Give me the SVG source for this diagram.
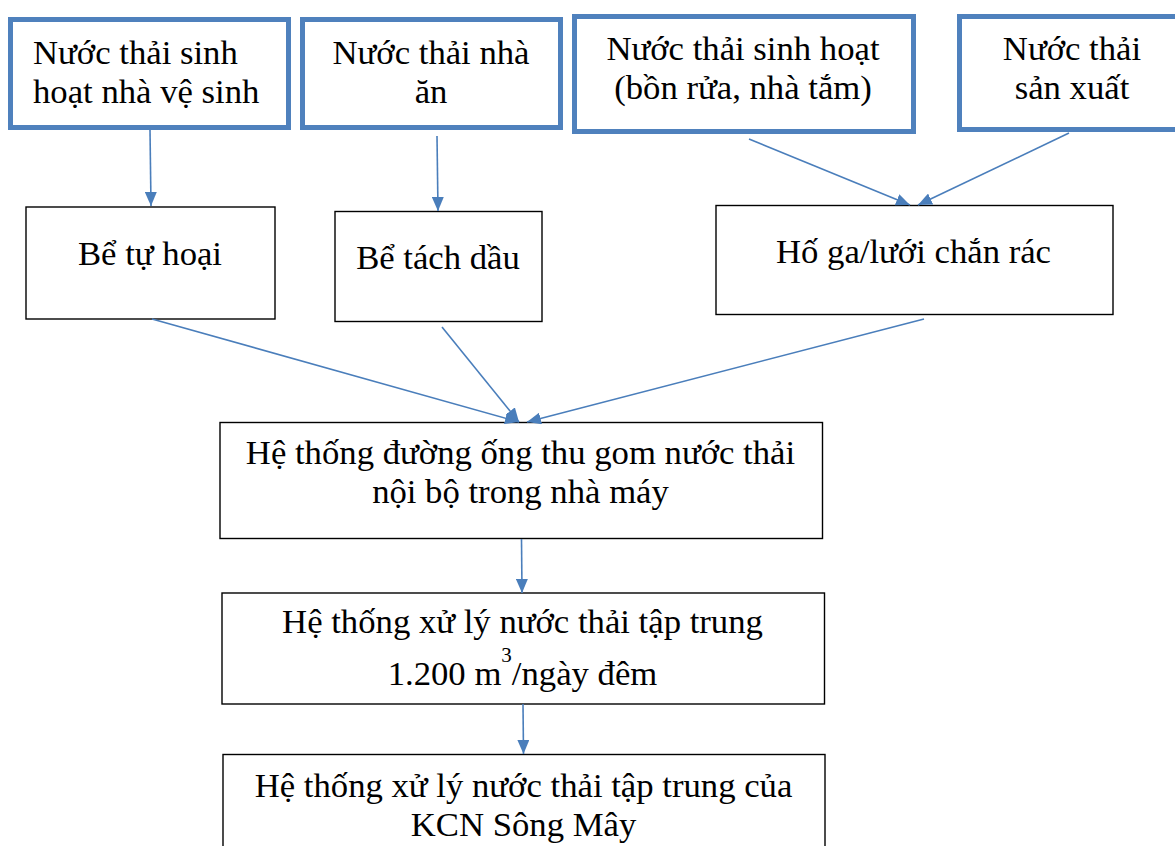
<svg xmlns="http://www.w3.org/2000/svg" width="1175" height="846" viewBox="0 0 1175 846">
  <style>
    .src { fill: #ffffff; stroke: #4F81BD; stroke-width: 5; }
    .box { fill: #ffffff; stroke: #000000; stroke-width: 1.4; }
    .lbl { font-size: 34.7px; fill: #000000; }
    .mid { text-anchor: middle; }
    .conn { stroke: #4A7EBB; stroke-width: 1.6; fill: none; marker-end: url(#arr); }
  </style>
  <defs>
    <marker id="arr" markerUnits="userSpaceOnUse" markerWidth="14" markerHeight="12" refX="14" refY="6" orient="auto">
      <path d="M0,0 L14,6 L0,12 z" fill="#4A7EBB"/>
    </marker>
  </defs>

  <rect width="1175" height="846" fill="#ffffff"/>

  <g font-family="Liberation Serif, Tinos, Times New Roman, DejaVu Serif, serif">
  <!-- source boxes -->
  <g id="n-ve-sinh">
    <rect class="src" x="10.5" y="19.5" width="278" height="108"/>
    <text class="lbl" x="33" y="64">Nước thải sinh</text>
    <text class="lbl" x="33" y="103">hoạt nhà vệ sinh</text>
  </g>
  <g id="n-nha-an">
    <rect class="src" x="302.5" y="19.5" width="258" height="108"/>
    <text class="lbl mid" x="431" y="64">Nước thải nhà</text>
    <text class="lbl mid" x="431" y="103">ăn</text>
  </g>
  <g id="n-bon-rua">
    <rect class="src" x="574.5" y="16.5" width="339" height="115"/>
    <text class="lbl mid" x="743" y="60">Nước thải sinh hoạt</text>
    <text class="lbl mid" x="743" y="99">(bồn rửa, nhà tắm)</text>
  </g>
  <g id="n-san-xuat">
    <rect class="src" x="959.5" y="16.5" width="230" height="113"/>
    <text class="lbl mid" x="1072" y="60">Nước thải</text>
    <text class="lbl mid" x="1072" y="99">sản xuất</text>
  </g>

  <!-- pre-treatment -->
  <g id="n-tu-hoai">
    <rect class="box" x="26" y="207" width="249" height="112"/>
    <text class="lbl mid" x="150" y="265">Bể tự hoại</text>
  </g>
  <g id="n-tach-dau">
    <rect class="box" x="335" y="211.5" width="207" height="110"/>
    <text class="lbl mid" x="438" y="269">Bể tách dầu</text>
  </g>
  <g id="n-ho-ga">
    <rect class="box" x="716" y="205.5" width="397" height="109"/>
    <text class="lbl mid" x="913.5" y="263">Hố ga/lưới chắn rác</text>
  </g>

  <!-- collection and treatment -->
  <g id="n-thu-gom">
    <rect class="box" x="220" y="422.5" width="602.5" height="116"/>
    <text class="lbl mid" x="520.5" y="464">Hệ thống đường ống thu gom nước thải</text>
    <text class="lbl mid" x="520.5" y="503">nội bộ trong nhà máy</text>
  </g>
  <g id="n-xu-ly">
    <rect class="box" x="222" y="593" width="602.5" height="111"/>
    <text class="lbl mid" x="522.5" y="633">Hệ thống xử lý nước thải tập trung</text>
    <text class="lbl mid" x="522.5" y="685">1.200 m<tspan font-size="21" dy="-23">3</tspan><tspan dy="23">/ngày đêm</tspan></text>
  </g>
  <g id="n-kcn">
    <rect class="box" x="223" y="754.5" width="602" height="110"/>
    <text class="lbl mid" x="523.5" y="797">Hệ thống xử lý nước thải tập trung của</text>
    <text class="lbl mid" x="523.5" y="836">KCN Sông Mây</text>
  </g>
  </g>

  <!-- connectors -->
  <g id="connectors">
    <line class="conn" x1="150" y1="130" x2="151" y2="206"/>
    <line class="conn" x1="437" y1="136" x2="438" y2="211"/>
    <line class="conn" x1="749" y1="139" x2="910" y2="205"/>
    <line class="conn" x1="1069" y1="133" x2="918" y2="205"/>
    <line class="conn" x1="152" y1="319" x2="519" y2="422"/>
    <line class="conn" x1="442" y1="327" x2="519" y2="422"/>
    <line class="conn" x1="924" y1="319" x2="527" y2="422"/>
    <line class="conn" x1="521.5" y1="539" x2="522" y2="593"/>
    <line class="conn" x1="523" y1="704" x2="523.5" y2="754"/>
  </g>
</svg>
